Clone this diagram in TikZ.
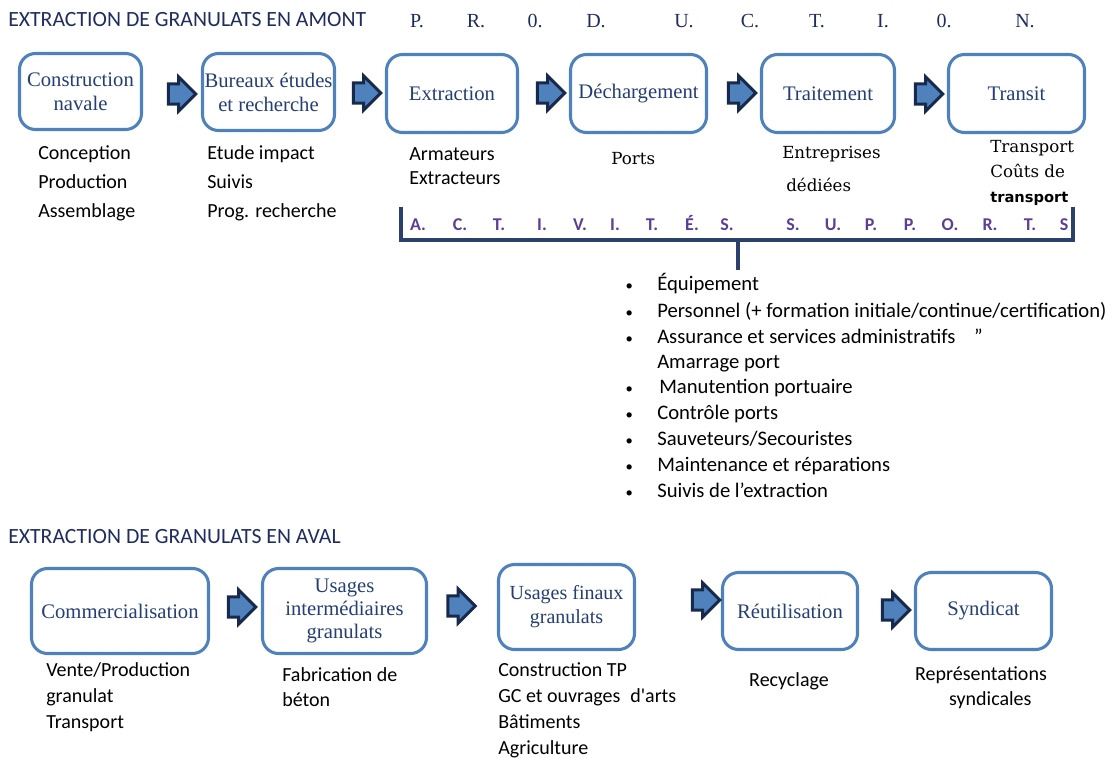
\documentclass[tikz,border=0pt]{standalone}
\usepackage{fontspec}
\setmainfont{Liberation Serif}
\newfontfamily\calib{Carlito}
\newfontfamily\dejaserif{DejaVu Serif}
\newfontfamily\dejasans{DejaVu Sans}
\usepackage{tikz}
\usetikzlibrary{shapes.arrows}

\definecolor{boxline}{RGB}{79,129,189}
\definecolor{boxtext}{RGB}{36,62,118}
\definecolor{headnavy}{RGB}{30,44,96}
\definecolor{arrowline}{RGB}{24,42,76}
\definecolor{braceline}{RGB}{44,64,108}
\definecolor{suppviolet}{RGB}{92,62,150}

\tikzset{
  stage/.style={draw=boxline, line width=2.3pt, rounded corners=12pt, fill=white,
    align=center, text=boxtext, inner sep=1pt, font=\fontsize{15.5}{18}\selectfont},
  flow/.style={single arrow, draw=arrowline, fill=boxline, line width=2.2pt,
    inner xsep=0pt, inner ysep=6.5pt, minimum height=20.5pt,
    single arrow head extend=5.2pt},
  header/.style={anchor=west, inner sep=0pt, text=headnavy, font=\calib\fontsize{16.3}{18}\selectfont},
  prodletter/.style={anchor=base, inner sep=0pt, text=headnavy, font=\fontsize{15}{17}\selectfont},
  suppletter/.style={anchor=base, inner sep=0pt, text=suppviolet, font=\calib\bfseries\fontsize{13.5}{15}\selectfont},
  desc/.style={anchor=north west, align=left, inner sep=0pt, font=\calib\fontsize{15}{#1}\selectfont},
  desc/.default=19.5pt,
  sdesc/.style={anchor=north west, align=left, inner sep=0pt, font=\dejaserif\fontsize{12.5}{#1}\selectfont},
  sdesc/.default=18.75pt,
  item/.style={anchor=base west, inner sep=0pt, font=\calib\fontsize{15.5}{17}\selectfont},
  brace/.style={draw=braceline, line width=2.3pt}
}
\newcommand{\puce}{\makebox[24.75pt][l]{\hspace{1pt}\fontsize{11}{11}\selectfont•}}

\begin{document}
\begin{tikzpicture}[x=0.75pt,y=-0.75pt]
\useasboundingbox (0,0) rectangle (1112,757);

% en amont
\node[header] (amont) at (8,20) {EXTRACTION DE GRANULATS EN AMONT};
\node[prodletter] (p1) at (417,27) {P.};
\node[prodletter] (p2) at (476,27) {R.};
\node[prodletter] (p3) at (535,27) {0.};
\node[prodletter] (p4) at (596,27) {D.};
\node[prodletter] (p5) at (684,27) {U.};
\node[prodletter] (p6) at (750,27) {C.};
\node[prodletter] (p7) at (817,27) {T.};
\node[prodletter] (p8) at (883,27) {I.};
\node[prodletter] (p9) at (944,27) {0.};
\node[prodletter] (p10) at (1025,27) {N.};

\node[stage, minimum width=91.5pt, minimum height=57pt] (naval) at (80.5,91.5) {Construction\\navale};
\node[stage, minimum width=99pt, minimum height=57.75pt] (bureaux) at (268.5,92) {Bureaux études\\et recherche};
\node[stage, minimum width=98.25pt, minimum height=58.5pt] (extraction) at (452,93.5) {Extraction};
\node[stage, minimum width=102pt, minimum height=58.5pt] (dechargement) at (638.5,93.5) {Déchargement};
\node[stage, minimum width=99.75pt, minimum height=58.5pt] (traitement) at (828,93.5) {Traitement};
\node[stage, minimum width=102pt, minimum height=58.5pt] (transit) at (1016.5,93.5) {Transit};

\node[flow] (f1) at (177,94) {};
\node[flow] (f2) at (362,93) {};
\node[flow] (f3) at (546,93) {};
\node[flow] (f4) at (737,93) {};
\node[flow] (f5) at (924,94) {};

\node[desc=21.75pt] (navaldesc) at (38,145) {Conception\\Production\\Assemblage};
\node[desc=21.75pt] (bureauxdesc) at (207,145) {Etude impact\\Suivis\\Prog. recherche};
\node[desc=18pt] (extractiondesc) at (409,147) {Armateurs\\Extracteurs};
\node[sdesc] (ports) at (611,152) {Ports};
\node[sdesc=24.75pt] (entreprises) at (782,146) {Entreprises\\\hspace{3pt}dédiées};
\node[sdesc] (transitdesc) at (990,140) {Transport\\Coûts de\\{\dejasans\bfseries\fontsize{11}{13}\selectfont transport}};

% activites supports
\coordinate (brl) at (401,207);
\coordinate (brr) at (1073,207);
\coordinate (stemtop) at (738,240);
\coordinate (stembot) at (738,270);
\draw[brace] (brl) |- (1073,240) -- (brr);
\draw[brace] (stemtop) -- (stembot);

\node[suppletter] (s1) at (418,230) {A.};
\node[suppletter] (s2) at (460,230) {C.};
\node[suppletter] (s3) at (499,230) {T.};
\node[suppletter] (s4) at (542,230) {I.};
\node[suppletter] (s5) at (580,230) {V.};
\node[suppletter] (s6) at (615,230) {I.};
\node[suppletter] (s7) at (652,230) {T.};
\node[suppletter] (s8) at (692,230) {É.};
\node[suppletter] (s9) at (727,230) {S.};
\node[suppletter] (s10) at (793,230) {S.};
\node[suppletter] (s11) at (833,230) {U.};
\node[suppletter] (s12) at (871,230) {P.};
\node[suppletter] (s13) at (910,230) {P.};
\node[suppletter] (s14) at (950,230) {O.};
\node[suppletter] (s15) at (990,230) {R.};
\node[suppletter] (s16) at (1030,230) {T.};
\node[suppletter] (s17) at (1064,230) {S};

\node[item] (i1) at (624,290) {\puce Équipement};
\node[item] (i2) at (624,317) {\puce Personnel (+ formation initiale/continue/certification)};
\node[item] (i3) at (624,343) {\puce Assurance et services administratifs\hspace{14pt}”};
\node[item] (i4) at (624,368) {\makebox[24.75pt][l]{}Amarrage port};
\node[item] (i5) at (624,393) {\puce\hspace{1.5pt}Manutention portuaire};
\node[item] (i6) at (624,419) {\puce Contrôle ports};
\node[item] (i7) at (624,445) {\puce Sauveteurs/Secouristes};
\node[item] (i8) at (624,471) {\puce Maintenance et réparations};
\node[item] (i9) at (624,497) {\puce Suivis de l’extraction};

% en aval
\node[header] (aval) at (8,537) {EXTRACTION DE GRANULATS EN AVAL};

\node[stage, minimum width=132.75pt, minimum height=63.75pt] (commerce) at (120,611) {Commercialisation};
\node[stage, minimum width=123pt, minimum height=63.75pt, font=\fontsize{15.5}{17.25}\selectfont] (intermediaire) at (344.5,611) {Usages\\intermédiaires\\granulats};
\node[stage, minimum width=102pt, minimum height=63.75pt, font=\fontsize{15}{18}\selectfont] (finaux) at (566.5,607) {Usages finaux\\granulats};
\node[stage, minimum width=101.25pt, minimum height=57.75pt] (reutilisation) at (790,611) {Réutilisation};
\node[stage, minimum width=102pt, minimum height=57.75pt] (syndicat) at (983.5,611) {Syndicat};

\node[flow] (g1) at (237,607) {};
\node[flow] (g2) at (456.5,606) {};
\node[flow] (g3) at (701,600) {};
\node[flow] (g4) at (891,610) {};

\node[desc] (commercedesc) at (46,662) {Vente/Production\\granulat\\Transport};
\node[desc=18.75pt] (intermediairedesc) at (282,667) {Fabrication de\\béton};
\node[desc] (finauxdesc) at (498,662) {Construction TP\\GC et ouvrages\hspace{4pt} d'arts\\Bâtiments\\Agriculture};
\node[desc, anchor=north] (recyclage) at (789,672) {Recyclage};
\node[desc=18.75pt, anchor=north, align=center] (syndicatdesc) at (981,666) {Représentations\\\hspace{14pt}syndicales};
\end{tikzpicture}
\end{document}
